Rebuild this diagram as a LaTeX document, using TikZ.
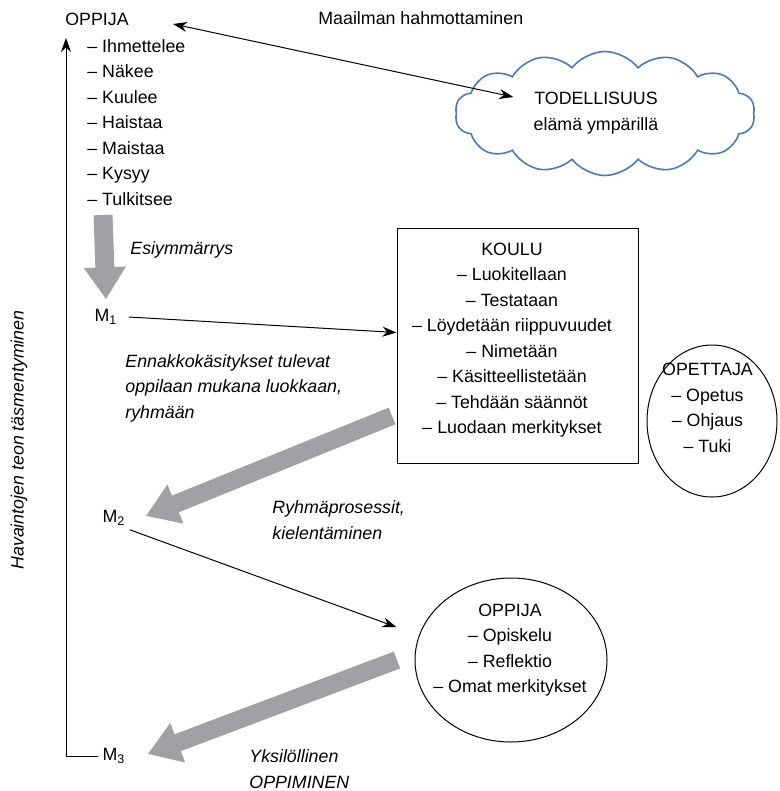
\documentclass[tikz,border=0pt]{standalone}
\usepackage{fontspec}
\setmainfont{Liberation Sans}
\usepackage{xcolor}
\usetikzlibrary{arrows.meta}
\usetikzlibrary{shapes.geometric, shapes.symbols}
\usetikzlibrary{math}

\definecolor{pilvensini}{HTML}{4A7BB7}
\definecolor{nuolenharmaa}{HTML}{A0A1A4}

\begin{document}
\begin{tikzpicture}[x=0.5pt, y=-0.5pt,
  teksti/.style={font=\fontsize{8.9}{12.75}\selectfont, inner sep=2pt},
  kursiivi/.style={teksti, font=\fontsize{8.9}{12.75}\selectfont\itshape},
  ohut/.style={line width=0.5pt, -{Stealth[length=7pt,width=5pt]}},
  iso/.style={line width=\varsi pt, draw=nuolenharmaa, -{Triangle[width=\karki pt,length=\pituus pt]}},
]
\tikzmath{
\varsi=9;
\karki=20;
\pituus=16;
}
\useasboundingbox (0,0) rectangle (780,791);

% oppija and senses
\node[teksti, anchor=west] (oppija) at (61,19) {OPPIJA};
\node[teksti, anchor=north west, align=left] (aistit) at (83,35)
  {– Ihmettelee\\– Näkee\\– Kuulee\\– Haistaa\\– Maistaa\\– Kysyy\\– Tulkitsee};

% reality
\node[teksti, anchor=west] (maailma) at (314,18) {Maailman hahmottaminen};
\node[cloud, cloud puffs=14, cloud puff arc=105, aspect=2.4, draw=pilvensini, line width=0.8pt,
  minimum width=150pt, minimum height=62pt, inner sep=0pt] (todellisuus) at (605,113.5) {};
\node[teksti, align=center] (todtxt) at (596,113) {TODELLISUUS\\elämä ympärillä};
\draw[ohut, {Stealth[length=7pt,width=5pt]}-{Stealth[length=7pt,width=5pt]}]
  ([xshift=20pt,yshift=-2.5pt]oppija.east) -- ([xshift=-8pt,yshift=8pt]todtxt.west);

% M1
\coordinate (esialku) at (103,215);
\node[teksti] (m1) at (106,317) {M\textsubscript{1}};
\draw[iso, line width=9.5pt] (esialku) -- ([yshift=3pt]m1.north);
\node[kursiivi, anchor=west] (esiymm) at (126,250) {Esiymmärrys};

% school
\node[draw, line width=0.5pt, minimum width=120.5pt, minimum height=117.5pt] (koulu) at (517.5,345.5) {};
\node[teksti, align=center] (koulutxt) at (512,340)
  {KOULU\\– Luokitellaan\\– Testataan\\– Löydetään riippuvuudet\\– Nimetään\\– Käsitteellistetään\\– Tehdään säännöt\\– Luodaan merkitykset};
\draw[ohut] ([xshift=3.5pt]m1.east) -- ([yshift=6.5pt]koulu.west);
\node[kursiivi, anchor=west, align=left] (ennakko) at (121,388)
  {Ennakkokäsitykset tulevat\\oppilaan mukana luokkaan,\\ryhmään};

% teacher
\node[draw, ellipse, line width=0.5pt, minimum width=65pt, minimum height=76pt] (opettaja) at (712,421) {};
\node[teksti, align=center] (opettajatxt) at (707.5,408) {OPETTAJA\\– Opetus\\– Ohjaus\\– Tuki};

% M2
\coordinate (kouluulos) at (392,416);
\node[teksti] (m2) at (114,518) {M\textsubscript{2}};
\draw[iso] (kouluulos) -- ([xshift=8pt,yshift=1pt]m2.east);
\node[kursiivi, anchor=west, align=left] (ryhma) at (268,520)
  {Ryhmäprosessit,\\kielentäminen};

% learner
\node[draw, ellipse, line width=0.5pt, minimum width=96pt, minimum height=82pt] (oppijapiiri) at (511,660) {};
\node[teksti, align=center] (oppijatxt) at (510,650) {OPPIJA\\– Opiskelu\\– Reflektio\\– Omat merkitykset};
\draw[ohut, shorten >=12pt] (m2.south east) -- (oppijapiiri.165);

% M3
\coordinate (oppijaulos) at (397,660);
\node[teksti] (m3) at (114,756) {M\textsubscript{3}};
\draw[iso] (oppijaulos) -- ([xshift=9pt,yshift=1pt]m3.east);
\node[kursiivi, anchor=west, align=left] (yksil) at (245,769)
  {Yksilöllinen\\OPPIMINEN};

% axis
\coordinate (ylos) at (66,38);
\draw[ohut] (m3.west) -| (ylos);
\node[kursiivi, rotate=90] (havainto) at (19,440) {Havaintojen teon täsmentyminen};
\end{tikzpicture}
\end{document}
